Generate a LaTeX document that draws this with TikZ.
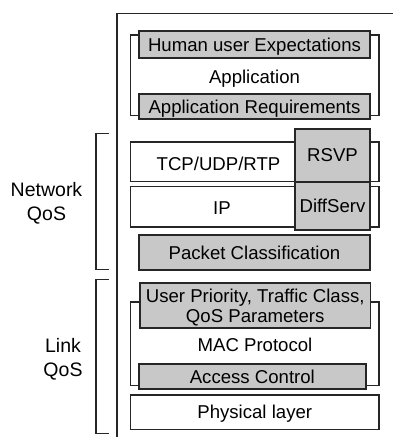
\documentclass[tikz,border=0pt]{standalone}
\usepackage{fontspec}
\setmainfont{Liberation Sans}
\definecolor{linec}{HTML}{262626}
\definecolor{greyc}{HTML}{C8C8C8}
\begin{document}
\begin{tikzpicture}[x=1pt,y=-1pt,
  every node/.style={inner sep=0pt,outer sep=0pt},
  whitebox/.style={draw=linec,line width=1.3pt,fill=white,rectangle},
  greybox/.style={draw=linec,line width=1.8pt,fill=greyc,rectangle,
    font=\fontsize{18.6}{20}\selectfont,text height=13.3pt,text depth=0pt},
  plain/.style={font=\fontsize{18.6}{20}\selectfont,anchor=base},
  side/.style={font=\fontsize{19.5}{23.3}\selectfont,align=center,anchor=base},
  brk/.style={draw=linec,line width=1.3pt}]
\useasboundingbox (0,0) rectangle (393,437);
% outer frame
\coordinate (fr1) at (393,13.3);
\coordinate (fr2) at (117,13.3);
\coordinate (fr3) at (117,437);
\draw[brk] (fr1) -- (fr2) -- (fr3);
% application
\node[whitebox,minimum width=248.7pt,minimum height=80.7pt] (app) at (254.65,75.35) {};
\node[plain] (apptxt) at (254.5,83.3) {Application};
\node[greybox,minimum width=231pt,minimum height=27.3pt] (hum) at (254.5,44.65) {Human user Expectations};
\node[greybox,minimum width=231pt,minimum height=25.3pt] (areq) at (254.5,106.65) {Application Requirements};
% network
\node[whitebox,minimum width=248.7pt,minimum height=39.7pt] (tcp) at (254.65,161.85) {};
\node[plain] (tcptxt) at (218.5,170) {TCP/UDP/RTP};
\node[whitebox,minimum width=248.7pt,minimum height=40.5pt] (ip) at (254.65,206.75) {};
\node[plain] (iptxt) at (222,214.6) {IP};
\node[greybox,minimum width=75pt,minimum height=53pt] (rsvp) at (332.5,155.2) {RSVP};
\node[greybox,minimum width=75pt,minimum height=48.3pt] (diff) at (332.5,205.85) {DiffServ};
\node[greybox,minimum width=231pt,minimum height=35pt] (pc) at (254.5,252.5) {Packet Classification};
% link
\node[whitebox,minimum width=248.7pt,minimum height=83.7pt] (mac) at (254.65,343.85) {};
\node[plain] (mactxt) at (255,351.7) {MAC Protocol};
\node[greybox,minimum width=230.5pt,minimum height=45pt,align=center,
  font=\fontsize{18.6}{20.3}\selectfont,text height=33.9pt,text depth=0pt] (up) at (255.25,305.8)
  {User Priority, Traffic Class,\\QoS Parameters};
\node[greybox,minimum width=226.7pt,minimum height=25.3pt] (ac) at (252.35,376.65) {Access Control};
\node[whitebox,minimum width=248.5pt,minimum height=34.5pt,
  font=\fontsize{18.6}{20}\selectfont,text height=13.3pt,text depth=0pt] (phy) at (254.75,412.25) {Physical layer};
% brackets
\coordinate (nb1) at (108.5,133.3);
\coordinate (nb2) at (96,133.3);
\coordinate (nb3) at (96,269.3);
\coordinate (nb4) at (108.5,269.3);
\draw[brk] (nb1) -- (nb2) -- (nb3) -- (nb4);
\coordinate (lb1) at (108.5,279.3);
\coordinate (lb2) at (96,279.3);
\coordinate (lb3) at (96,433.3);
\coordinate (lb4) at (108.5,433.3);
\draw[brk] (lb1) -- (lb2) -- (lb3) -- (lb4);
\node[side] (nqos) at (46.5,220) {Network\\QoS};
\node[side] (lqos) at (63,376) {Link\\QoS};
\end{tikzpicture}
\end{document}
